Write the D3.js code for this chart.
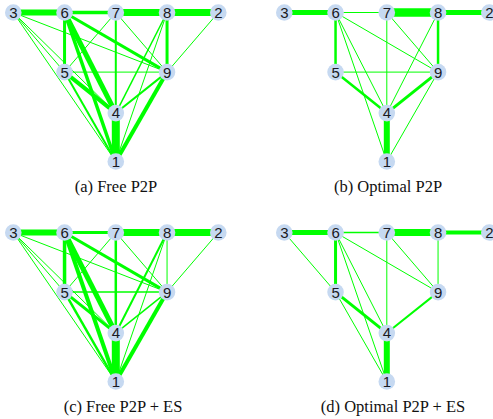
<!DOCTYPE html>
<html>
<head>
<meta charset="utf-8">
<script src="https://cdn.jsdelivr.net/npm/d3@7"></script>
<style>
  html, body { margin: 0; padding: 0; background: #fff; }
  svg { display: block; }
</style>
</head>
<body>
<svg id="chart" width="493" height="419"></svg>
<script>
// Trading network between nine peers under four market designs.
const peers = ["1", "2", "3", "4", "5", "6", "7", "8", "9"];
const panelTitles = ["(a) Free P2P", "(b) Optimal P2P", "(c) Free P2P + ES", "(d) Optimal P2P + ES"];

// Traded energy on each link: [from, to, amount]
const freeP2P = [
  ["3","6",6], ["6","7",3.5], ["7","8",7], ["8","2",7],
  ["6","5",3], ["8","9",3], ["6","4",5], ["6","1",3.5], ["6","9",3],
  ["5","4",4], ["5","1",2], ["4","1",8], ["9","1",4], ["9","4",2],
  ["7","4",2], ["8","4",1.5], ["8","1",1],
  ["3","5",1], ["3","4",1], ["3","1",1], ["3","9",1],
  ["7","5",1], ["7","9",1], ["2","9",1], ["5","9",1]
];
const optimalP2P = [
  ["3","6",5], ["6","7",1], ["7","8",8.5], ["8","2",5],
  ["6","5",2.5], ["8","9",2.5], ["6","9",1], ["6","4",1], ["6","1",1],
  ["7","4",1], ["7","9",1], ["8","4",1], ["5","9",1],
  ["5","4",2.5], ["9","4",3], ["4","1",6], ["9","1",1]
];
const freeP2PES = [
  ["3","6",6], ["6","7",3], ["7","8",7], ["8","2",7],
  ["6","5",3.5], ["6","4",5], ["6","1",4], ["6","9",3],
  ["3","5",1], ["3","4",1], ["3","1",1], ["3","9",1],
  ["7","5",1], ["7","4",2.5], ["7","9",1], ["8","9",1],
  ["8","4",2], ["8","1",1], ["2","9",1], ["5","9",1.5],
  ["5","4",3], ["5","1",2.5], ["9","4",1.5], ["9","1",4], ["4","1",8]
];
const optimalP2PES = [
  ["3","6",5], ["6","7",1.5], ["7","8",7], ["8","2",4],
  ["3","5",1], ["6","5",3], ["6","4",1], ["6","1",1], ["6","9",1],
  ["7","4",1], ["7","9",1], ["8","9",1],
  ["5","4",3], ["5","1",1], ["9","4",2], ["4","1",6]
];
const panelEdges = [freeP2P, optimalP2P, freeP2PES, optimalP2PES];

// Drawing layout: grid column and relative depth of every peer
const layout = {
  "3": [0, 0], "6": [1, 0], "7": [2, 0], "8": [3, 0], "2": [4, 0],
  "5": [1, 0.4], "9": [3, 0.4], "4": [2, 0.675], "1": [2, 1]
};
const panelOrigin = [[0, 0], [271, 0], [0, 220], [271, 220]];
const captionX = [116, 388, 123, 393];
const captionY = [192, 192, 412, 412];

const svg = d3.select("#chart");

const x = d3.scaleLinear().domain([0, 4]).range([13.3, 218.3]);
const y = d3.scaleLinear().domain([0, 1]).range([12.5, 161.5]);
const width = d3.scaleLinear().domain([0, 8]).range([0, 8]);

panelTitles.forEach((title, i) => {
  const g = svg.append("g")
    .attr("transform", `translate(${panelOrigin[i][0]},${panelOrigin[i][1]})`);

  const px = id => x(layout[id][0]);
  const py = id => y(layout[id][1]);

  g.append("g")
    .selectAll("line")
    .data(panelEdges[i])
    .join("line")
    .attr("x1", d => px(d[0]))
    .attr("y1", d => py(d[0]))
    .attr("x2", d => px(d[1]))
    .attr("y2", d => py(d[1]))
    .attr("stroke", "#00ff00")
    .attr("stroke-width", d => width(d[2]));

  const node = g.append("g")
    .selectAll("g")
    .data(peers)
    .join("g")
    .attr("transform", d => `translate(${px(d)},${py(d)})`);

  node.append("circle")
    .attr("r", 8.3)
    .attr("fill", "#c6d9f1");

  node.append("text")
    .attr("text-anchor", "middle")
    .attr("dy", "0.36em")
    .attr("font-family", "Liberation Sans, Arial, sans-serif")
    .attr("font-size", 15)
    .attr("fill", "#1a1a22")
    .text(d => d);

  svg.append("text")
    .attr("x", captionX[i])
    .attr("y", captionY[i])
    .attr("text-anchor", "middle")
    .attr("font-family", "Liberation Serif, Times New Roman, serif")
    .attr("font-size", 16.5)
    .attr("fill", "#111")
    .text(title);
});
</script>
</body>
</html>
